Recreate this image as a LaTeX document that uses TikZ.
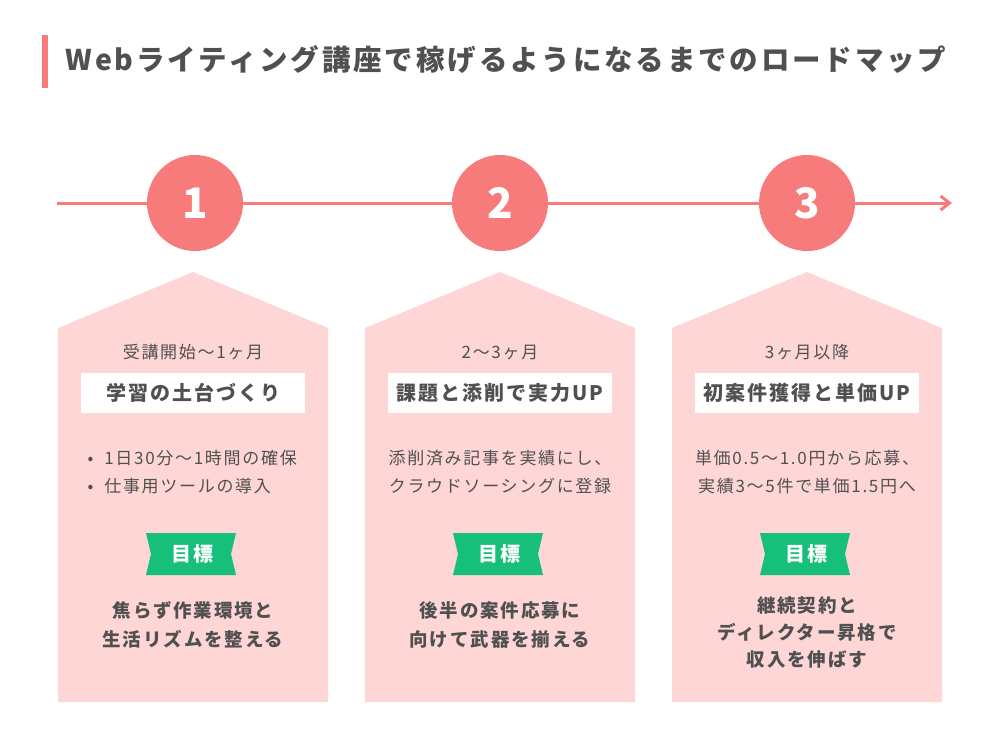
\documentclass[tikz,border=0pt]{standalone}
\usepackage{fontspec}
\setmainfont{Noto Sans CJK JP}[LetterSpace=10]
\usetikzlibrary{arrows.meta}
\definecolor{pk}{HTML}{F77B7B}
\definecolor{pane}{HTML}{FFD6D6}
\definecolor{tx}{HTML}{505050}
\definecolor{gr}{HTML}{16C07A}
\begin{document}
\begin{tikzpicture}[x=1pt,y=-1pt,
 txt/.style={text=tx,font=\fontsize{17}{28}\selectfont,align=center},
 head/.style={fill=white,minimum width=224,minimum height=40,text=tx,font=\fontsize{20}{22}\selectfont\bfseries},
 goal/.style={text=tx,font=\fontsize{18.5}{29}\selectfont\bfseries,align=center},
 num/.style={circle,fill=pk,minimum size=96,text=white,font=\fontsize{42}{42}\selectfont\bfseries}]
\useasboundingbox (0,0) rectangle (1000,750);
\fill[pk] (42,35) rectangle (48,88);
\node[anchor=west,text=tx,font=\fontsize{28.5}{30}\selectfont\bfseries] (title) at (62,60) {Webライティング講座で稼げるようになるまでのロードマップ};
\coordinate (ls) at (57,203); \coordinate (le) at (952,203);
\draw[pk,line width=3,-{Straight Barb[length=9,width=14]}] (ls) -- (le);
\node[num] (n1) at (195,203) {1};
\node[num] (n2) at (500,203) {2};
\node[num] (n3) at (807,203) {3};
\foreach \x/\i in {58/1,365/2,672/3}{
 \fill[pane] (\x,702) -- (\x,328) -- (\x+135,272) -- (\x+270,328) -- (\x+270,702) -- cycle;
 \fill[gr] (\x+88,533) -- (\x+178,533) -- (\x+173,554) -- (\x+178,575) -- (\x+88,575) -- (\x+93,554) -- cycle;
 \node[text=white,font=\fontsize{20}{20}\selectfont\bfseries] (g\i) at (\x+134,554) {目標};
}
\node[txt] (p1) at (193,352) {受講開始〜1ヶ月};
\node[txt] (p2) at (500,352) {2〜3ヶ月};
\node[txt] (p3) at (807,352) {3ヶ月以降};
\node[head] (h1) at (193,393) {学習の土台づくり};
\node[head] (h2) at (500,393) {課題と添削で実力UP};
\node[head] (h3) at (807,393) {初案件獲得と単価UP};
\node[txt,align=left,anchor=west] (b1) at (84,472) {•\ \ 1日30分〜1時間の確保\\•\ \ 仕事用ツールの導入};
\node[txt] (b2) at (500,472) {添削済み記事を実績にし、\\クラウドソーシングに登録};
\node[txt] (b3) at (807,472) {単価0.5〜1.0円から応募、\\実績3〜5件で単価1.5円へ};
\node[goal] (t1) at (193,625) {焦らず作業環境と\\生活リズムを整える};
\node[goal] (t2) at (500,625) {後半の案件応募に\\向けて武器を揃える};
\node[goal,font=\fontsize{18.5}{27}\selectfont\bfseries] (t3) at (807,632) {継続契約と\\ディレクター昇格で\\収入を伸ばす};
\end{tikzpicture}
\end{document}
